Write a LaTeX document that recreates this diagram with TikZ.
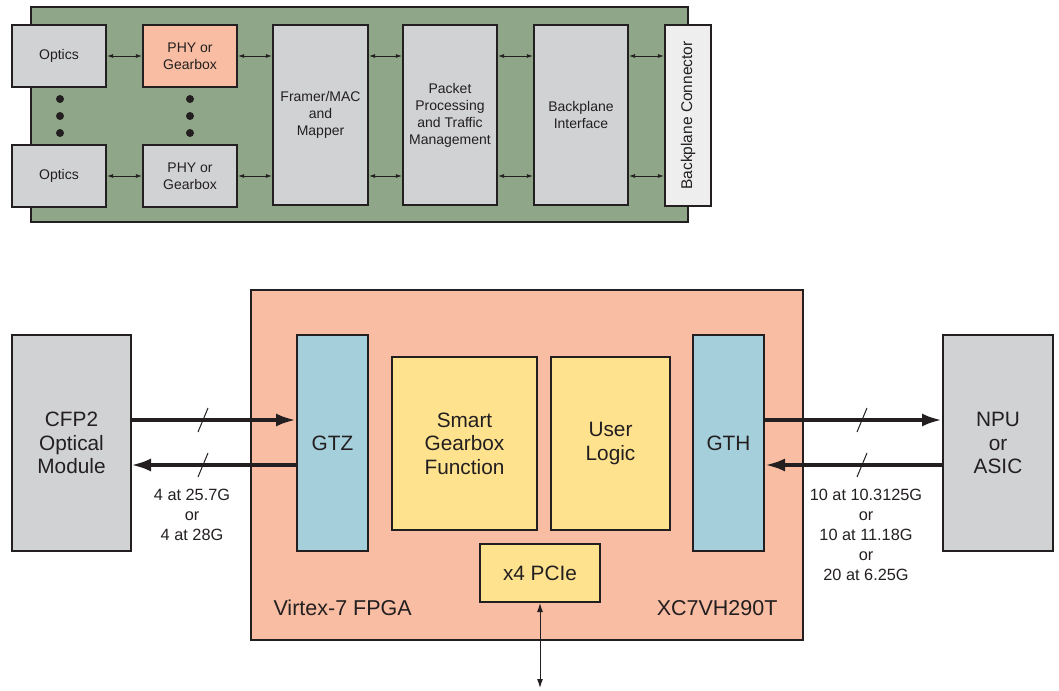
\documentclass[tikz,border=0pt]{standalone}
\usepackage{fontspec}
\setmainfont{Liberation Sans}
\usetikzlibrary{arrows.meta}
\definecolor{pgreen}{RGB}{143,167,136}
\definecolor{psalmon}{RGB}{248,189,162}
\definecolor{pgray}{RGB}{209,210,212}
\definecolor{plight}{RGB}{238,238,239}
\definecolor{pblue}{RGB}{166,207,220}
\definecolor{pyellow}{RGB}{254,226,142}
\definecolor{pline}{RGB}{35,31,32}
\tikzset{
  box/.style={draw=pline, line width=2.2pt, fill=pgray, inner sep=0pt, align=center, text=pline},
  topbox/.style={box, font=\fontsize{14}{17}\selectfont},
  botbox/.style={box, line width=2pt, font=\fontsize{20.8}{23.5}\selectfont},
  small/.style={{Latex[length=6pt,width=4pt]}-{Latex[length=6pt,width=4pt]}, line width=0.8pt, draw=pline},
  thick arrow/.style={-{Latex[length=20pt,width=13pt]}, line width=3.8pt, draw=pline},
  lbl/.style={font=\fontsize{16.3}{20}\selectfont, align=center, text=pline},
  dotc/.style={circle, fill=pline, inner sep=0pt, minimum size=8pt}
}
\begin{document}
\begin{tikzpicture}[x=1pt,y=-1pt]
\useasboundingbox (0,0) rectangle (1059,690);
% top panel
\node[draw=pline, line width=2.2pt, fill=pgreen, minimum width=657pt, minimum height=215pt, inner sep=0pt] (panel) at (359.5,114.5) {};
\node[topbox, minimum width=94pt, minimum height=62pt] (o1) at (59,56) {Optics};
\node[topbox, minimum width=94pt, minimum height=62pt] (o2) at (59,176) {Optics};
\node[topbox, fill=psalmon, minimum width=94pt, minimum height=62pt] (p1) at (190,56) {PHY or\\Gearbox};
\node[topbox, minimum width=94pt, minimum height=62pt] (p2) at (190,176) {PHY or\\Gearbox};
\node[topbox, minimum width=95pt, minimum height=180pt] (fr) at (320.5,115) {Framer/MAC\\and\\Mapper};
\node[topbox, minimum width=94pt, minimum height=180pt] (pk) at (450,115) {Packet\\Processing\\and Traffic\\Management};
\node[topbox, minimum width=94pt, minimum height=180pt] (bi) at (581,115) {Backplane\\Interface};
\node[topbox, fill=plight, minimum width=46pt, minimum height=181pt] (bc) at (688,115.5) {};
\node[rotate=90, font=\fontsize{15.5}{18}\selectfont, text=pline] (bct) at (bc.center) {Backplane Connector};
% dots
\foreach \y [count=\i] in {99,116,133} {
  \node[dotc] (da\i) at (60,\y) {};
  \node[dotc] (db\i) at (190,\y) {};
}
% small arrows
\draw[small] (o1.east) -- (p1.west);
\draw[small] (o2.east) -- (p2.west);
\draw[small] (p1.east) -- (fr.west |- p1.east);
\draw[small] (p2.east) -- (fr.west |- p2.east);
\draw[small] (fr.east |- p1.east) -- (pk.west |- p1.east);
\draw[small] (fr.east |- p2.east) -- (pk.west |- p2.east);
\draw[small] (pk.east |- p1.east) -- (bi.west |- p1.east);
\draw[small] (pk.east |- p2.east) -- (bi.west |- p2.east);
\draw[small] (bi.east |- p1.east) -- (bc.west |- p1.east);
\draw[small] (bi.east |- p2.east) -- (bc.west |- p2.east);

% bottom
\node[draw=pline, line width=2pt, fill=psalmon, minimum width=552pt, minimum height=350pt, inner sep=0pt] (fpga) at (527,465) {};
\node[botbox, minimum width=119pt, minimum height=216pt] (cfp) at (71.5,443) {CFP2\\Optical\\Module};
\node[botbox, fill=pblue, minimum width=71pt, minimum height=216pt] (gtz) at (332.5,443) {GTZ};
\node[botbox, fill=pyellow, minimum width=145pt, minimum height=173pt] (sg) at (464.5,443.5) {Smart\\Gearbox\\Function};
\node[botbox, fill=pyellow, minimum width=119pt, minimum height=173pt] (ul) at (610.5,443.5) {User\\Logic};
\node[botbox, fill=pblue, minimum width=71pt, minimum height=216pt] (gth) at (728.5,443) {GTH};
\node[botbox, minimum width=110pt, minimum height=216pt] (npu) at (998,443) {NPU\\or\\ASIC};
\node[botbox, fill=pyellow, minimum width=120pt, minimum height=58pt] (pcie) at (540,573) {x4 PCIe};
\node[font=\fontsize{21.5}{25}\selectfont, text=pline, anchor=west] (vt) at (270,608) {Virtex-7 FPGA};
\node[font=\fontsize{21.5}{25}\selectfont, text=pline, anchor=east] (xc) at (781,608) {XC7VH290T};
\coordinate (pend) at (540,688);
\draw[{Latex[length=9pt,width=6pt]}-{Latex[length=9pt,width=6pt]}, line width=1pt, draw=pline] (pcie.south) -- (pend);

\coordinate (c1) at (131,420); \coordinate (c2) at (131,465);
\draw[thick arrow] (c1) -- (gtz.west |- c1);
\draw[thick arrow] (gtz.west |- c2) -- (c2);
\draw[thick arrow] (gth.east |- c1) -- (npu.west |- c1);
\draw[thick arrow] (npu.west |- c2) -- (gth.east |- c2);
% slashes
\foreach \x/\n in {203/a,862/b} {
  \draw[line width=1pt, draw=pline] (\x-5,432) -- (\x+5,408);
  \draw[line width=1pt, draw=pline] (\x-5,477) -- (\x+5,453);
}
\node[lbl] (l1) at (192,515) {4 at 25.7G\\or\\4 at 28G};
\node[lbl] (l2) at (866,535) {10 at 10.3125G\\or\\10 at 11.18G\\or\\20 at 6.25G};
\end{tikzpicture}
\end{document}
